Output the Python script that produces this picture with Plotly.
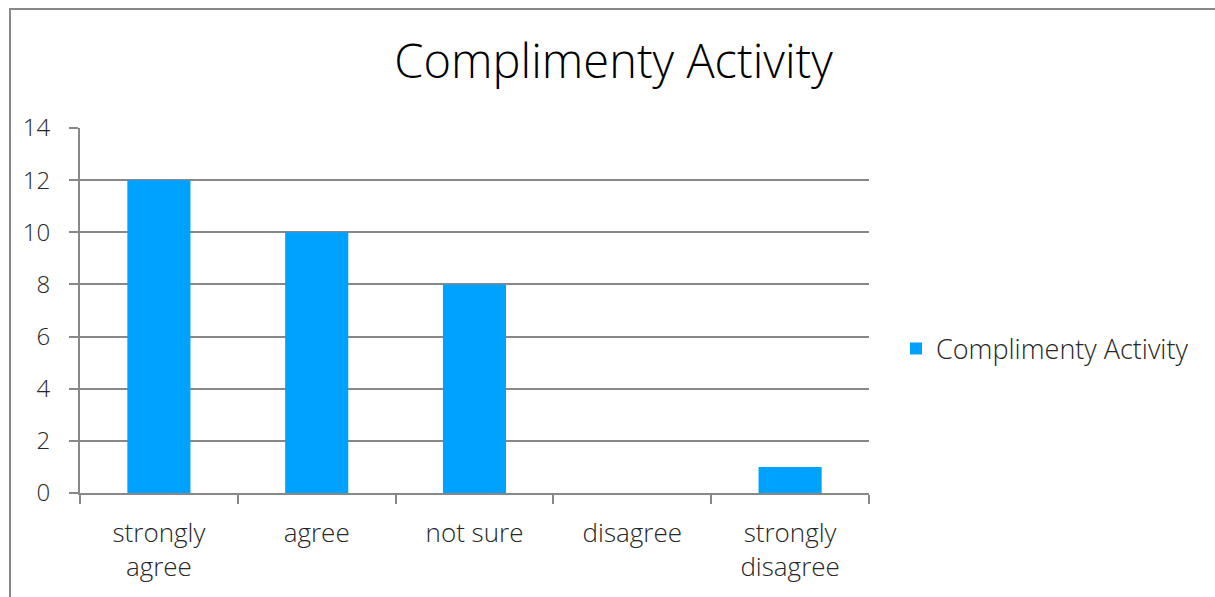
import plotly.graph_objects as go

# Survey responses for the compliment activity
categories = ["strongly<br>agree", "agree", "not sure", "disagree", "strongly<br>disagree"]
counts = [12, 10, 8, 0, 1]
series_name = "Complimenty Activity"
y_ticks = [0, 2, 4, 6, 8, 10, 12, 14]

W, H = 1215, 597
L, R, T, B = 80, 869, 128, 493  # plot area in pixels

fig = go.Figure()
fig.add_trace(go.Bar(
    x=categories,
    y=counts,
    name=series_name,
    marker=dict(color="#00A2FF", line=dict(width=0)),
    showlegend=True,
))

def px_x(x):
    return (x - L) / (R - L)

def px_y(y):
    return (B - y) / (B - T)

FONT = "Open Sans, sans-serif"
TEXT = "#262626"

fig.update_layout(
    width=W,
    height=H,
    margin=dict(l=L, r=W - R, t=T, b=H - B, autoexpand=False),
    paper_bgcolor="white",
    plot_bgcolor="white",
    font=dict(family=FONT, color=TEXT, weight=300),
    title=dict(
        text="Complimenty Activity",
        x=0.505, xanchor="center",
        y=1 - 62 / H, yanchor="middle",
        font=dict(size=47, color="#000000", weight=300),
    ),
    bargap=0.6,
    showlegend=True,
    legend=dict(
        x=px_x(896), xanchor="left",
        y=px_y(349), yanchor="middle",
        font=dict(size=27, color=TEXT, weight=300),
        itemwidth=30,
        bgcolor="rgba(0,0,0,0)",
    ),
    xaxis=dict(
        type="category",
        tickson="boundaries",
        ticks="outside",
        ticklen=9,
        tickcolor="#888888",
        tickwidth=2,
        showline=True,
        linecolor="#888888",
        linewidth=2,
        showgrid=False,
        tickfont=dict(size=26, color=TEXT, weight=300),
        ticklabelstandoff=16,
        fixedrange=True,
    ),
    yaxis=dict(
        range=[0, 14],
        tickvals=y_ticks,
        ticks="outside",
        ticklen=9,
        tickcolor="#888888",
        tickwidth=2,
        showline=True,
        linecolor="#888888",
        linewidth=2,
        showgrid=True,
        gridcolor="#888888",
        gridwidth=2,
        zeroline=False,
        tickfont=dict(size=24, color=TEXT, weight=300),
        ticklabelstandoff=14,
    ),
    shapes=[dict(
        type="rect",
        xref="paper", yref="paper",
        x0=px_x(10), x1=px_x(W + 20),
        y0=px_y(H + 20), y1=px_y(9),
        line=dict(color="#888888", width=2),
        fillcolor="rgba(0,0,0,0)",
        layer="below",
    )],
)

fig.write_html("out.html")
